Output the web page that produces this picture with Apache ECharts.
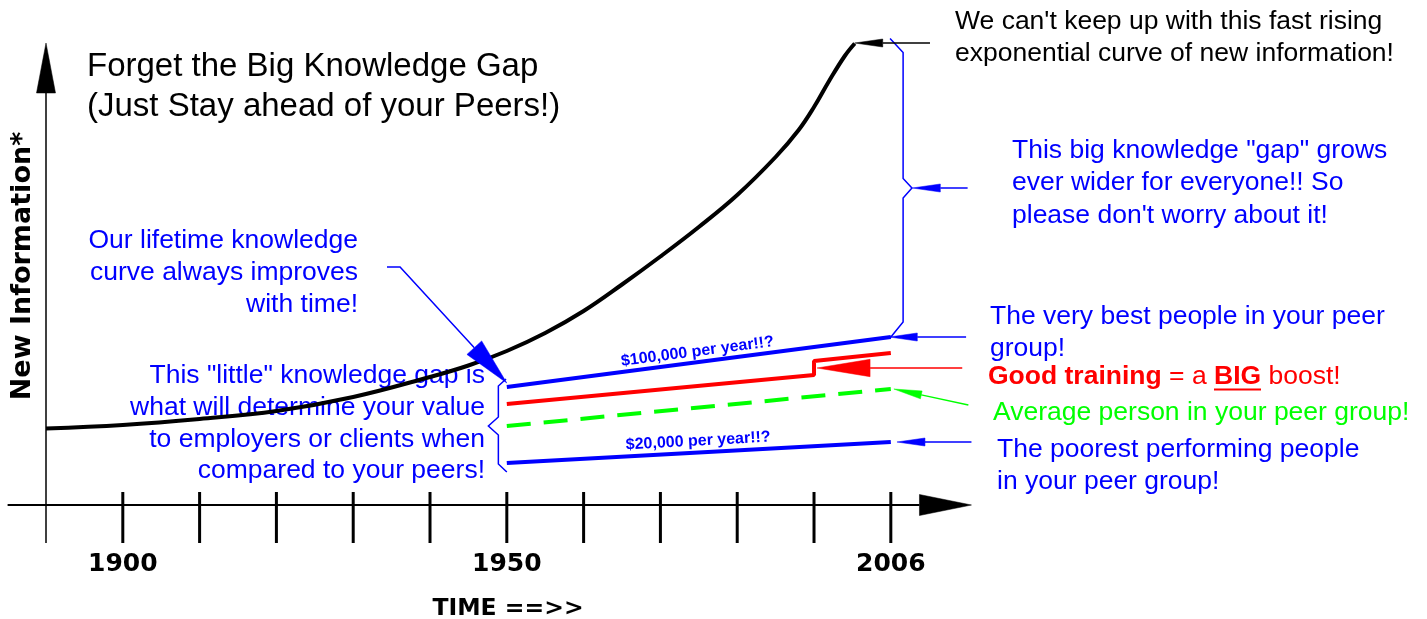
<!DOCTYPE html>
<html><head><meta charset="utf-8">
<script src="https://cdn.jsdelivr.net/npm/echarts@6/dist/echarts.min.js"></script>
<style>html,body{margin:0;padding:0;background:#fff}#c{width:1427px;height:619px}</style>
</head><body><div id="c"></div>
<script>
// ---------------- data ----------------
const curveYears  = [1890, 1900, 1910, 1920, 1930, 1940, 1945, 1950, 1955, 1960, 1965, 1970, 1975, 1980, 1985, 1988, 1990, 1992, 1994, 1995.3];
const curveValues = [15.3, 16.0, 17.2, 18.8, 21.6, 25.6, 27.9, 30.8, 34.4, 38.8, 44.1, 49.7, 55.6, 62.0, 69.6, 75.0, 79.6, 84.9, 89.8, 92.3];
const peerYears      = [1950, 2000];
const bestValues     = [23.6, 33.6];
const averageValues  = [15.8, 23.2];
const poorestValues  = [8.4, 12.6];
const trainingYears  = [1950, 1990, 1990, 2000];
const trainingValues = [20.2, 26.0, 28.8, 30.4];
const tickYears  = [1900, 1910, 1920, 1930, 1940, 1950, 1960, 1970, 1980, 1990, 2000];
const labelYears = [1900, 1950, 2000];
const labelTexts = ['1900', '1950', '2006'];
const bestLabel = '$100,000 per year!!?';
const poorLabel = '$20,000 per year!!?';

// annotation paths (data coordinates: [year, value]); last point = arrow tip
const xAxisPath   = [[1885, 0], [2010.5, 0]];
const yAxisPath   = [[1890, -7.6], [1890, 92.4]];
const blackArrows = [[[2005.1, 92.4], [1995.3, 92.4]]];
const blueArrows  = [
  [[2010.0, 63.4], [2002.8, 63.4]],
  [[2009.8, 33.6], [1999.8, 33.6]],
  [[2010.5, 12.6], [2000.8, 12.6]]
];
const greenArrows = [[[2010.1, 20.0], [2000.4, 23.2]]];
const redArrows   = [[[2009.3, 27.4], [1990.4, 27.4]]];
const bigArrows   = [[[1934.4, 47.6], [1936.1, 47.6], [1950.0, 24.4]]];
const bigBrace    = [[1999.9, 93.3], [2001.6, 90.5], [2001.6, 65.3], [2002.75, 63.4], [2001.6, 61.4], [2001.6, 36.6], [1999.9, 33.4]];
const smallBrace  = [[1949.9, 25.2], [1948.9, 23.8], [1948.9, 17.6], [1947.6, 15.8], [1948.9, 14.0], [1948.9, 8.2], [1950.0, 6.6]];

// ---------------- helpers ----------------
const SANS = '"Liberation Sans", Arial, sans-serif';
const WIDE = '"DejaVu Sans", sans-serif';

function arrowSeries(paths, color, lw, headLen, headW) {
  return {
    type: 'custom', silent: true, clip: false, z: 6, animation: false,
    data: paths.map(p => p[0]),
    renderItem: function (params, api) {
      const pts = paths[params.dataIndex].map(p => api.coord(p));
      const n = pts.length;
      const tip = pts[n - 1], prev = pts[n - 2];
      const dx = tip[0] - prev[0], dy = tip[1] - prev[1];
      const L = Math.sqrt(dx * dx + dy * dy);
      const ux = dx / L, uy = dy / L;
      const bx = tip[0] - ux * headLen, by = tip[1] - uy * headLen;
      const nx = -uy, ny = ux;
      const shaft = pts.slice(0, n - 1).concat([[bx, by]]);
      return {
        type: 'group', children: [
          { type: 'polyline', shape: { points: shaft }, style: { stroke: color, lineWidth: lw, fill: null } },
          { type: 'polygon', shape: { points: [tip, [bx + nx * headW, by + ny * headW], [bx - nx * headW, by - ny * headW]] },
            style: { fill: color, stroke: color, lineWidth: 0.5 } }
        ]
      };
    }
  };
}
function pathSeries(path, color, lw) {
  return {
    type: 'custom', silent: true, clip: false, z: 6, animation: false,
    data: [path[0]],
    renderItem: function (params, api) {
      return { type: 'polyline', shape: { points: path.map(p => api.coord(p)) }, style: { stroke: color, lineWidth: lw, fill: null } };
    }
  };
}
// text laid along a segment (rotated to the segment's screen angle), lifted above it
function lineLabelSeries(text, from, to, lift, color, fontSize) {
  return {
    type: 'custom', silent: true, clip: false, z: 7, animation: false,
    data: [from],
    renderItem: function (params, api) {
      const a = api.coord(from), b = api.coord(to);
      const dx = b[0] - a[0], dy = b[1] - a[1];
      const L = Math.sqrt(dx * dx + dy * dy);
      const ux = dx / L, uy = dy / L;
      const mx = (a[0] + b[0]) / 2 + uy * lift, my = (a[1] + b[1]) / 2 - ux * lift;
      return { type: 'text', x: mx, y: my, rotation: Math.atan2(a[1] - b[1], b[0] - a[0]),
        style: { text: text, fill: color, fontFamily: SANS, fontWeight: 'bold', fontSize: fontSize,
                 align: 'center', verticalAlign: 'middle' } };
    }
  };
}
const pairs = (xs, ys) => xs.map((x, i) => [x, ys[i]]);

const chart = echarts.init(document.getElementById('c'), null, { renderer: 'canvas' });
chart.setOption({
  animation: false,
  backgroundColor: '#fff',
  grid: { left: 7.6, right: 451.7, top: 35, bottom: 74, containLabel: false },
  xAxis: {
    type: 'value', min: 1885, max: 2011,
    axisLine: { show: false, onZero: false }, axisTick: { show: false }, splitLine: { show: false },
    axisLabel: {
      customValues: labelYears, margin: 7,
      formatter: v => { const i = labelYears.indexOf(v); return i >= 0 ? labelTexts[i] : ''; },
      fontFamily: WIDE, fontWeight: 'bold', fontSize: 25, color: '#000'
    }
  },
  yAxis: { type: 'value', min: -8, max: 94, show: false },
  series: [
    { type: 'line', data: pairs(curveYears, curveValues), smooth: 0.4, symbol: 'none', z: 3,
      lineStyle: { color: '#000', width: 4 } },
    { type: 'line', data: pairs(peerYears, bestValues), symbol: 'none', z: 3,
      lineStyle: { color: '#0000ff', width: 4 } },
    { type: 'line', data: pairs(trainingYears, trainingValues), symbol: 'none', z: 3,
      lineStyle: { color: '#ff0000', width: 4 } },
    { type: 'line', data: pairs(peerYears, averageValues), symbol: 'none', z: 3,
      lineStyle: { color: '#00ff00', width: 4, type: [24, 13] } },
    { type: 'line', data: pairs(peerYears, poorestValues), symbol: 'none', z: 3,
      lineStyle: { color: '#0000ff', width: 4 } },
    lineLabelSeries(bestLabel, [peerYears[0], bestValues[0]], [peerYears[1], bestValues[1]], 10.5, '#0000ff', 16),
    lineLabelSeries(poorLabel, [peerYears[0], poorestValues[0]], [peerYears[1], poorestValues[1]], 11.5, '#0000ff', 16),
    // axes
    arrowSeries([xAxisPath], '#000', 2, 52, 10.5),
    arrowSeries([yAxisPath], '#000', 1.5, 50, 9.5),
    { type: 'custom', silent: true, clip: false, z: 5, animation: false,
      data: tickYears.map(y => [y, 0]),
      renderItem: function (params, api) {
        const p = api.coord([api.value(0), 0]);
        return { type: 'line', shape: { x1: p[0], y1: p[1] - 13, x2: p[0], y2: p[1] + 38 }, style: { stroke: '#000', lineWidth: 3 } };
      } },
    // annotations
    pathSeries(bigBrace, '#0000ff', 1.5),
    pathSeries(smallBrace, '#0000ff', 1.5),
    arrowSeries(blackArrows, '#000', 1.5, 28, 4),
    arrowSeries(blueArrows, '#0000ff', 1.5, 28, 4),
    arrowSeries(greenArrows, '#00ff00', 1.5, 28, 4),
    arrowSeries(redArrows, '#ff0000', 1.5, 53, 8.7),
    arrowSeries(bigArrows, '#0000ff', 1.5, 48, 10)
  ],
  graphic: [
    { type: 'text', x: 87, y: 47, style: { text: 'Forget the Big Knowledge Gap\n(Just Stay ahead of your Peers!)',
      fontFamily: SANS, fontSize: 33, lineHeight: 40, fill: '#000', verticalAlign: 'top' } },
    { type: 'text', x: 955, y: 6, style: { text: "We can't keep up with this fast rising\nexponential curve of new information!",
      fontFamily: SANS, fontSize: 26.5, lineHeight: 32, fill: '#000', verticalAlign: 'top' } },
    { type: 'text', x: 1012, y: 134, style: { text: 'This big knowledge "gap" grows\never wider for everyone!! So\nplease don\'t worry about it!',
      fontFamily: SANS, fontSize: 26.5, lineHeight: 32.5, fill: '#0000ff', verticalAlign: 'top' } },
    { type: 'text', x: 358, y: 225, style: { text: 'Our lifetime knowledge\ncurve always improves\nwith time!',
      fontFamily: SANS, fontSize: 26.5, lineHeight: 32, fill: '#0000ff', align: 'right', verticalAlign: 'top' } },
    { type: 'text', x: 485, y: 360, style: { text: 'This "little" knowledge gap is\nwhat will determine your value\nto employers or clients when\ncompared to your peers!',
      fontFamily: SANS, fontSize: 26.5, lineHeight: 31.7, fill: '#0000ff', align: 'right', verticalAlign: 'top' } },
    { type: 'text', x: 990, y: 301, style: { text: 'The very best people in your peer\ngroup!',
      fontFamily: SANS, fontSize: 26.5, lineHeight: 32, fill: '#0000ff', verticalAlign: 'top' } },
    { type: 'text', x: 988, y: 377, style: { text: '{b|Good training}{n| = a }{b|BIG}{n| boost!}',
      fontFamily: SANS, fontSize: 26.5, fill: '#ff0000', verticalAlign: 'middle',
      rich: { b: { fontFamily: SANS, fontSize: 26.5, fontWeight: 'bold', fill: '#ff0000' },
              n: { fontFamily: SANS, fontSize: 26.5, fill: '#ff0000' } } } },
    { type: 'line', shape: { x1: 1214, y1: 389.5, x2: 1261, y2: 389.5 }, style: { stroke: '#ff0000', lineWidth: 2 } },
    { type: 'text', x: 993, y: 413, style: { text: 'Average person in your peer group!',
      fontFamily: SANS, fontSize: 26.5, fill: '#00ff00', verticalAlign: 'middle' } },
    { type: 'text', x: 997, y: 434, style: { text: 'The poorest performing people\nin your peer group!',
      fontFamily: SANS, fontSize: 26.5, lineHeight: 32, fill: '#0000ff', verticalAlign: 'top' } },
    { type: 'text', x: 23, y: 266, rotation: Math.PI / 2, style: { text: 'New Information*',
      fontFamily: WIDE, fontWeight: 'bold', fontSize: 27, fill: '#000', align: 'center', verticalAlign: 'middle' } },
    { type: 'text', x: 508, y: 609, style: { text: 'TIME ==>>',
      fontFamily: WIDE, fontWeight: 'bold', fontSize: 23.5, fill: '#000', align: 'center', verticalAlign: 'middle' } }
  ]
});
</script></body></html>
